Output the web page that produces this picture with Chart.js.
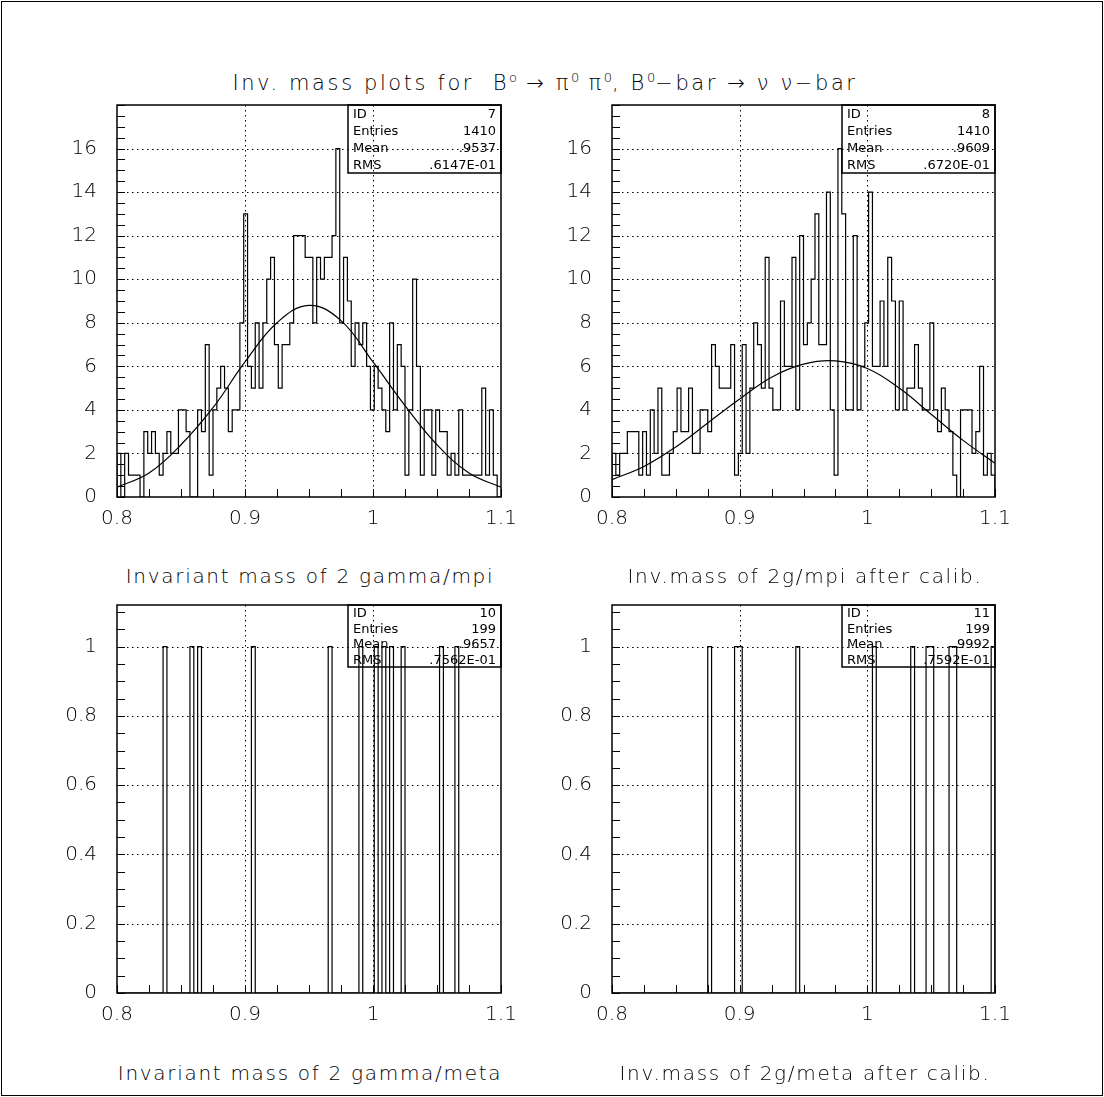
<!DOCTYPE html>
<html>
<head>
<meta charset="utf-8">
<title>Inv. mass plots</title>
<script src="https://cdn.jsdelivr.net/npm/chart.js@4.4.1/dist/chart.umd.min.js"></script>
<style>
  body { margin: 0; background: #fff; }
  #page { position: relative; width: 1104px; height: 1097px; overflow: hidden; background: #fff;
          font-family: "DejaVu Sans", sans-serif; color: #000; }
  #border { position: absolute; left: 1px; top: 1px; width: 1100px; height: 1093px; border: 1px solid #000; }
  canvas { position: absolute; }
  .txt { position: absolute; white-space: nowrap; font-size: 20px; font-weight: 200;
         letter-spacing: 1.7px; transform: translate(-50%, -50%); }
  .txt sup { font-size: 13px; vertical-align: 8px; letter-spacing: 0; }
  .ttl { font-size: 21px; letter-spacing: 2.6px; }
</style>
</head>
<body>
<div id="page">
  <div id="border"></div>
  <div class="txt ttl" style="left:545px; top:82px;">Inv. mass plots for&nbsp; B<sup>o</sup> &rarr; &pi;<sup>0</sup> &pi;<sup>0</sup>, B<sup>0</sup>&minus;bar &rarr; &nu; &nu;&minus;bar</div>
  <canvas id="c1"></canvas>
  <canvas id="c2"></canvas>
  <canvas id="c3"></canvas>
  <canvas id="c4"></canvas>
  <div class="txt" style="left:310px; top:576px;">Invariant mass of 2 gamma/mpi</div>
  <div class="txt" style="left:805px; top:576px;">Inv.mass of 2g/mpi after calib.</div>
  <div class="txt" style="left:310px; top:1073px;">Invariant mass of 2 gamma/meta</div>
  <div class="txt" style="left:805px; top:1073px;">Inv.mass of 2g/meta after calib.</div>
</div>
<script>
// histogram binning (100 bins from 0.8 to 1.1)
const binLow = 0.8;
const binHigh = 1.1;
const nBins = 100;

const xTickValues = [0.8, 0.9, 1.0, 1.1];
const xTickLabels = ['0.8', '0.9', '1', '1.1'];
const yTickValuesTop = [0, 2, 4, 6, 8, 10, 12, 14, 16];
const yTickLabelsTop = ['0', '2', '4', '6', '8', '10', '12', '14', '16'];
const yTickValuesBottom = [0, 0.2, 0.4, 0.6, 0.8, 1];
const yTickLabelsBottom = ['0', '0.2', '0.4', '0.6', '0.8', '1'];

// ID 7 : invariant mass of 2 gamma / mpi
const countsMpi = [
  2, 0, 2, 1, 1, 1, 0, 3, 2, 3, 2, 1, 2, 3, 2, 2, 4, 4, 3, 0,
  0, 4, 3, 7, 1, 4, 5, 6, 5, 3, 4, 4, 8, 13, 6, 5, 8, 5, 8, 10,
  11, 7, 5, 7, 7, 8, 12, 12, 12, 11, 11, 8, 11, 10, 11, 11, 12, 16, 8, 11,
  9, 6, 8, 7, 8, 6, 4, 6, 5, 4, 3, 8, 4, 7, 6, 1, 4, 10, 6, 1,
  4, 4, 1, 4, 3, 3, 1, 2, 1, 4, 1, 1, 1, 1, 1, 5, 1, 4, 1, 0
];
// ID 8 : after calibration
const countsMpiCalib = [
  2, 1, 2, 2, 3, 3, 3, 1, 3, 1, 4, 2, 5, 1, 1, 2, 3, 5, 3, 3,
  5, 2, 2, 4, 4, 3, 7, 6, 5, 5, 5, 7, 1, 2, 7, 2, 5, 8, 7, 5,
  11, 5, 4, 4, 9, 6, 6, 11, 4, 12, 7, 8, 10, 13, 7, 7, 14, 4, 1, 16,
  13, 4, 4, 12, 4, 6, 8, 14, 6, 6, 9, 6, 11, 9, 4, 9, 4, 5, 5, 7,
  5, 4, 4, 8, 4, 3, 5, 4, 3, 1, 0, 4, 4, 4, 2, 3, 6, 1, 2, 1
];
// ID 10 / 11 : bins holding one entry (all others are empty)
const filledBinsMeta = [12, 19, 21, 35, 55, 63, 67, 69, 71, 74, 84, 88];
const filledBinsMetaCalib = [25, 32, 33, 48, 68, 78, 82, 83, 88, 89, 99];

// fitted gaussians
const fitX = [0.8, 0.825, 0.85, 0.875, 0.9, 0.925, 0.95, 0.975, 1.0, 1.025, 1.05, 1.075, 1.1];
const fitMpi = [0.45, 1.1, 2.4, 4.1, 6.2, 8.0, 8.8, 8.1, 6.2, 4.2, 2.4, 1.1, 0.45];
const fitMpiCalib = [0.8, 1.4, 2.3, 3.4, 4.5, 5.5, 6.1, 6.25, 5.9, 5.0, 3.8, 2.6, 1.55];

const statsLabels = ['ID', 'Entries', 'Mean', 'RMS'];
const statsMpi = ['7', '1410', '.9537', '.6147E-01'];
const statsMpiCalib = ['8', '1410', '.9609', '.6720E-01'];
const statsMeta = ['10', '199', '.9657', '.7562E-01'];
const statsMetaCalib = ['11', '199', '.9992', '.7592E-01'];

const FONT = '"DejaVu Sans", sans-serif';

function outline(counts) {
  const w = (binHigh - binLow) / nBins;
  const pts = [{ x: binLow, y: 0 }];
  counts.forEach((c, i) => {
    pts.push({ x: binLow + i * w, y: c });
    pts.push({ x: binLow + (i + 1) * w, y: c });
  });
  pts.push({ x: binHigh, y: 0 });
  return pts;
}

function fromFilled(bins) {
  const counts = new Array(nBins).fill(0);
  bins.forEach(b => { counts[b] = 1; });
  return counts;
}

// frame, dotted grid, inner ticks and stats box, all placed through the scales
const pawPlugin = {
  id: 'paw',
  beforeDatasetsDraw(chart, args, o) {
    const { ctx, chartArea: a, scales: { x, y } } = chart;
    ctx.save();
    ctx.strokeStyle = '#000';
    ctx.lineWidth = 1;
    ctx.setLineDash([1.5, 3.5]);
    ctx.beginPath();
    [0.9, 1.0].forEach(v => {
      const px = Math.round(x.getPixelForValue(v)) + 0.5;
      ctx.moveTo(px, a.top); ctx.lineTo(px, a.bottom);
    });
    o.yTicks.slice(1).forEach(v => {
      const py = Math.round(y.getPixelForValue(v)) + 0.5;
      ctx.moveTo(a.left, py); ctx.lineTo(a.right, py);
    });
    ctx.stroke();
    ctx.restore();
  },
  afterDatasetsDraw(chart, args, o) {
    const { ctx, chartArea: a, scales: { x, y } } = chart;
    ctx.save();
    ctx.strokeStyle = '#000';
    ctx.lineWidth = 1;
    ctx.beginPath();
    // x ticks, pointing into the plot
    for (let v = binLow; v <= binHigh + 1e-9; v += 0.025) {
      const px = Math.round(x.getPixelForValue(v)) + 0.5;
      ctx.moveTo(px, a.bottom); ctx.lineTo(px, a.bottom - 8);
    }
    // y ticks
    for (let v = 0; v <= y.max + 1e-9; v += o.yMinor) {
      const py = Math.round(y.getPixelForValue(v)) + 0.5;
      ctx.moveTo(a.left, py); ctx.lineTo(a.left + 8, py);
    }
    ctx.stroke();
    // frame
    ctx.lineWidth = 1.5;
    ctx.strokeRect(a.left, a.top, a.right - a.left, a.bottom - a.top);
    // stats box
    const bw = 153, bh = o.boxH;
    const bx = a.right - bw, by = a.top;
    ctx.strokeRect(bx, by, bw, bh);
    ctx.fillStyle = '#000';
    ctx.font = '13px ' + FONT;
    ctx.textBaseline = 'middle';
    const rowH = bh / 4;
    statsLabels.forEach((lab, i) => {
      const ty = by + rowH * (i + 0.5) + 1;
      ctx.textAlign = 'left';
      ctx.fillText(lab, bx + 5, ty);
      ctx.textAlign = 'right';
      ctx.fillText(o.stats[i], a.right - 5, ty);
    });
    ctx.restore();
  }
};

function makePanel(id, plot, counts, fitY, yMax, yTicks, yLabels, yMinor, stats, boxH) {
  const padL = 100, padT = 10, padR = 25, padB = 60;
  const cv = document.getElementById(id);
  cv.width = plot.right - plot.left + padL + padR;
  cv.height = plot.bottom - plot.top + padT + padB;
  cv.style.left = (plot.left - padL) + 'px';
  cv.style.top = (plot.top - padT) + 'px';

  const datasets = [{
    data: outline(counts),
    borderColor: '#000',
    borderWidth: 1.2,
    pointRadius: 0,
    tension: 0,
    fill: false
  }];
  if (fitY) {
    datasets.push({
      data: fitX.map((x, i) => ({ x: x, y: fitY[i] })),
      borderColor: '#000',
      borderWidth: 1.2,
      pointRadius: 0,
      tension: 0.4,
      fill: false
    });
  }

  new Chart(cv.getContext('2d'), {
    type: 'line',
    data: { datasets: datasets },
    options: {
      responsive: false,
      animation: false,
      events: [],
      layout: { padding: { left: 0, top: padT, right: padR, bottom: 0 } },
      plugins: {
        legend: { display: false },
        tooltip: { enabled: false },
        paw: { yTicks: yTicks, yMinor: yMinor, stats: stats, boxH: boxH }
      },
      scales: {
        x: {
          type: 'linear', min: binLow, max: binHigh,
          grid: { display: false, drawTicks: false },
          border: { display: false },
          afterBuildTicks: s => { s.ticks = xTickValues.map(v => ({ value: v })); },
          afterFit: s => { s.height = padB; s.paddingLeft = 0; s.paddingRight = 0; },
          ticks: {
            color: '#000', padding: 10, maxRotation: 0, autoSkip: false,
            font: { family: FONT, size: 20, weight: '200' },
            callback: (v, i) => xTickLabels[i]
          }
        },
        y: {
          type: 'linear', min: 0, max: yMax,
          grid: { display: false, drawTicks: false },
          border: { display: false },
          afterBuildTicks: s => { s.ticks = yTicks.map(v => ({ value: v })); },
          afterFit: s => { s.width = padL; s.paddingTop = 0; s.paddingBottom = 0; },
          ticks: {
            color: '#000', padding: 20, autoSkip: false,
            font: { family: FONT, size: 20, weight: '200' },
            callback: (v, i) => yLabels[i]
          }
        }
      }
    },
    plugins: [pawPlugin]
  });
}

makePanel('c1', { left: 117, right: 501, top: 105, bottom: 497 }, countsMpi, fitMpi,
  18, yTickValuesTop, yTickLabelsTop, 0.5, statsMpi, 68);
makePanel('c2', { left: 612, right: 995, top: 105, bottom: 497 }, countsMpiCalib, fitMpiCalib,
  18, yTickValuesTop, yTickLabelsTop, 0.5, statsMpiCalib, 68);
makePanel('c3', { left: 117, right: 501, top: 605, bottom: 993 }, fromFilled(filledBinsMeta), null,
  1.12, yTickValuesBottom, yTickLabelsBottom, 0.05, statsMeta, 62);
makePanel('c4', { left: 612, right: 995, top: 605, bottom: 993 }, fromFilled(filledBinsMetaCalib), null,
  1.12, yTickValuesBottom, yTickLabelsBottom, 0.05, statsMetaCalib, 62);
</script>
</body>
</html>
